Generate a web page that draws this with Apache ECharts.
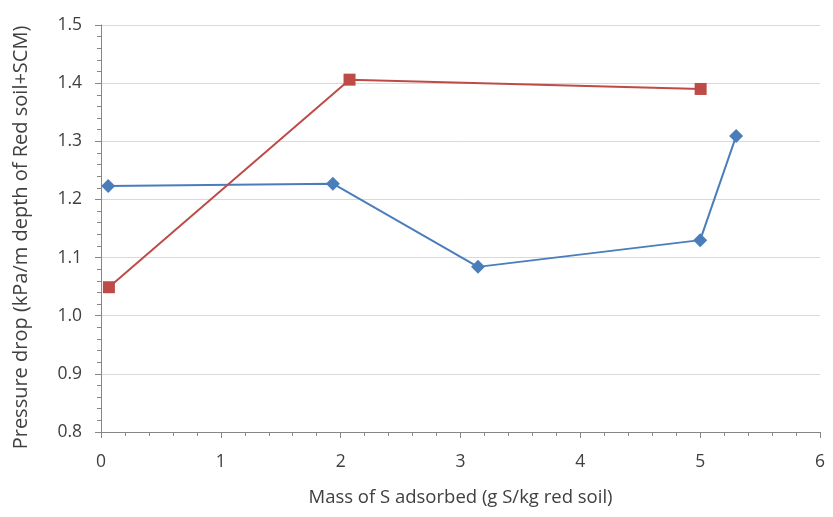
<!DOCTYPE html>
<html><head><meta charset="utf-8">
<script src="https://cdn.jsdelivr.net/npm/echarts@6/dist/echarts.min.js"></script>
<style>html,body{margin:0;padding:0;background:#fff}#c{width:833px;height:517px}</style>
</head><body><div id="c"></div>
<script>
const blueX = [0.06, 1.935, 3.146, 5.0, 5.30];
const blueY = [1.223, 1.227, 1.084, 1.130, 1.309];
const redX = [0.066, 2.074, 5.004];
const redY = [1.049, 1.406, 1.390];
const xTitle = 'Mass of S adsorbed (g S/kg red soil)';
const yTitle = 'Pressure drop (kPa/m depth of Red soil+SCM)';
const font = 'Open Sans';
const chart = echarts.init(document.getElementById('c'));
const axisCommon = {
  axisLine: {show: true, lineStyle: {color: '#868686', width: 1}},
  axisTick: {show: true, inside: false, length: 6, lineStyle: {color: '#868686'}},
  minorTick: {show: true, splitNumber: 5, length: 4, lineStyle: {color: '#868686'}},
  axisLabel: {color: '#404040', fontFamily: font, fontSize: 17.5},
};
chart.setOption({
  animation: false,
  grid: {left: 101, right: 13, top: 25, bottom: 85},
  xAxis: Object.assign({}, axisCommon, {
    type: 'value', min: 0, max: 6, interval: 1,
    name: xTitle, nameLocation: 'middle', nameGap: 56,
    nameTextStyle: {color: '#404040', fontFamily: font, fontSize: 18.5},
    splitLine: {show: false},
    axisLabel: Object.assign({}, axisCommon.axisLabel, {margin: 21})
  }),
  yAxis: Object.assign({}, axisCommon, {
    type: 'value', min: 0.8, max: 1.5, interval: 0.1,
    name: yTitle, nameLocation: 'middle', nameGap: 70, nameRotate: 90,
    nameTextStyle: {color: '#404040', fontFamily: font, fontSize: 20, padding: [0, 18, 0, 0]},
    splitLine: {show: true, lineStyle: {color: '#D9D9D9', width: 1}},
    axisLabel: Object.assign({}, axisCommon.axisLabel, {margin: 19, formatter: v => v.toFixed(1)})
  }),
  series: [
    {type: 'line', data: blueX.map((x, i) => [x, blueY[i]]), symbol: 'diamond', symbolSize: 14,
     itemStyle: {color: '#4A7EBB'}, lineStyle: {color: '#4A7EBB', width: 2}},
    {type: 'line', data: redX.map((x, i) => [x, redY[i]]), symbol: 'rect', symbolSize: 12,
     itemStyle: {color: '#BE4B48'}, lineStyle: {color: '#BE4B48', width: 2}}
  ]
});
</script></body></html>
